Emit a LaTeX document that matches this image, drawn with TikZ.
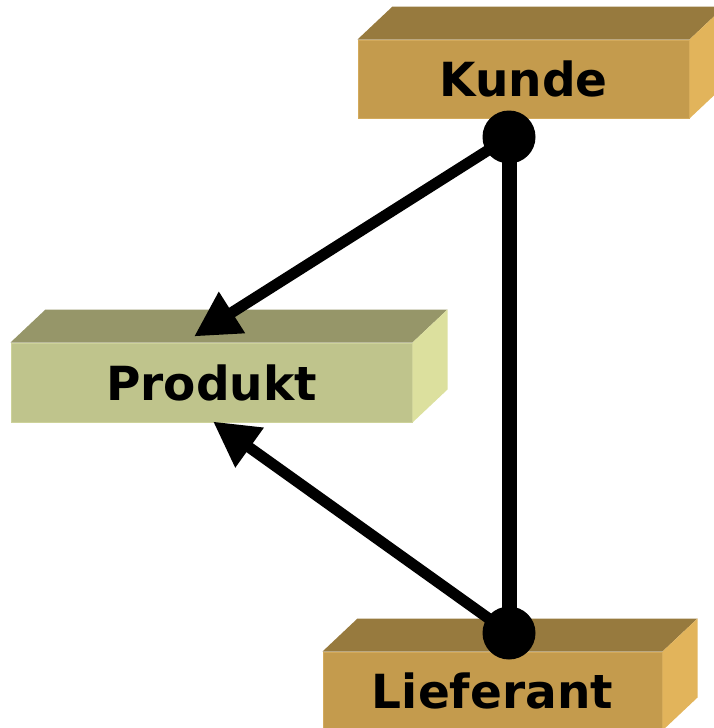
\documentclass[tikz,border=0pt]{standalone}
\usepackage{fontspec}
\setmainfont{DejaVu Sans}
\usetikzlibrary{arrows.meta}

\definecolor{goldfront}{HTML}{C49B4D}
\definecolor{goldtop}{HTML}{977A3E}
\definecolor{goldside}{HTML}{E2B45B}
\definecolor{goldedge}{HTML}{D3AA5C}
\definecolor{olivefront}{HTML}{BFC48C}
\definecolor{olivetop}{HTML}{969669}
\definecolor{oliveside}{HTML}{DCE09E}
\definecolor{oliveedge}{HTML}{CDD29A}

\tikzset{
	block/.style={draw=#1edge, fill=#1front, line width=1pt, inner sep=0pt,
		minimum height=78pt, font=\fontsize{47}{50}\selectfont\bfseries},
	pin/.style={circle, fill=black, minimum size=53pt, inner sep=0pt},
	link/.style={line width=11pt, -{Triangle[length=45pt,width=46pt]}},
}

% top and side face of a block
\newcommand{\blockfaces}[2]{%
	\fill[#2top] (#1.north west) -- ++(35pt,33pt) -- ([shift={(35pt,33pt)}]#1.north east) -- (#1.north east) -- cycle;
	\fill[#2side] (#1.north east) -- ++(35pt,33pt) -- ([shift={(35pt,33pt)}]#1.south east) -- (#1.south east) -- cycle;
}

\begin{document}
\begin{tikzpicture}[x=1pt, y=-1pt]
	\useasboundingbox (0,0) rectangle (714,728);

	\node [block=gold, minimum width=331pt] (kunde) at (523.5,79) {Kunde};
	\node [block=olive, minimum width=401pt, minimum height=79pt] (produkt) at (211.5,382.5) {Produkt};
	\node [block=gold, minimum width=339pt] (lieferant) at (492.5,691) {Lieferant};
	\blockfaces{kunde}{gold}
	\blockfaces{produkt}{olive}
	\blockfaces{lieferant}{gold}

	\node [pin] (kpin) at (509,137) {};
	\node [pin] (lpin) at (509,633) {};

	\draw [line width=15pt] (kpin.center) -- (lpin.center);
	\draw [link] (kpin.center) -- ([xshift=-17.5pt, yshift=6pt]produkt.north);
	\draw [link] (lpin.center) -- ([xshift=1.5pt, yshift=1pt]produkt.south);
\end{tikzpicture}
\end{document}
